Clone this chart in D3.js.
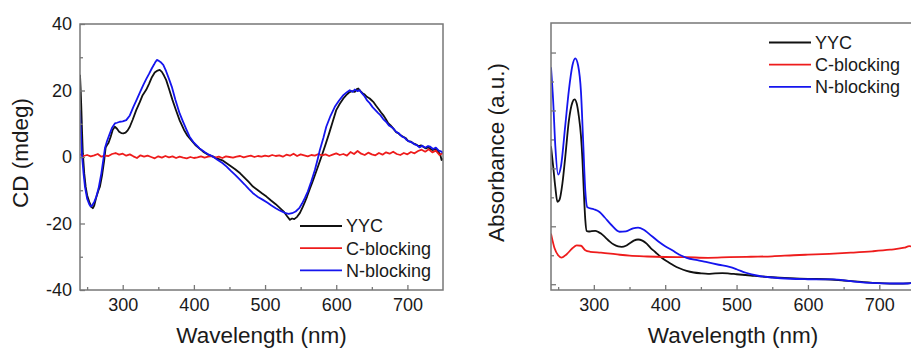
<!DOCTYPE html>
<html>
<head>
<meta charset="utf-8">
<script src="https://cdn.jsdelivr.net/npm/d3@7"></script>
<style>
  html, body { margin: 0; padding: 0; background: #fff; }
  svg { display: block; font-family: "Liberation Sans", Arial, sans-serif; }
</style>
</head>
<body>
<svg id="fig" width="911" height="351"></svg>
<script>
// ---- series names and colours ----
const seriesNames = ["YYC", "C-blocking", "N-blocking"];
const seriesColors = ["#111111", "#ee1c1c", "#1515ee"];

// ---- axis ticks ----
const xMajorTicks = [300, 400, 500, 600, 700];
const xMinorTicks = [250, 350, 450, 550, 650];
const cdMajorTicks = [-40, -20, 0, 20, 40];
const cdMinorTicks = [-30, -10, 10, 30];
const absMajorTicks = [0, 0.5, 1.0, 1.5, 2.0];
const absMinorTicks = [0.25, 0.75, 1.25, 1.75];

// ---- CD spectra [wavelength nm, mdeg] ----
const cdYYC = [[240,24.7],[241,20],[242,14],[243,7],[244,1],[246,-5],[248,-9],[250,-11.5],[253,-13.5],[256,-15],[258,-15.4],[260,-14.6],[263,-12],[266,-10],[268,-8.9],[271,-5.5],[274,-1],[276,2.8],[278,3.6],[280,4.2],[283,6],[286,8.2],[289,9.1],[292,8.5],[295,7.6],[298,7.2],[301,7.1],[304,7.3],[307,8],[310,9.1],[314,11.2],[319,14.1],[324,16.5],[328,18.6],[333,20.2],[337,22],[341,24],[345,25.4],[349,26],[352,26.2],[355,25.6],[358,24.5],[361,23.2],[365,20.5],[370,17.1],[375,14],[380,11],[386,8.2],[391,6.4],[396,5.1],[402,3.6],[408,2.5],[413,1.6],[420,0.7],[427,0.1],[433,-0.5],[440,-1],[446,-1.9],[452,-2.8],[458,-3.7],[465,-4.9],[471,-6.2],[477,-7.5],[483,-8.9],[490,-10],[496,-11],[502,-11.9],[508,-13],[515,-14.2],[521,-15.4],[527,-16.6],[531,-17.8],[535,-18.9],[538,-18.5],[541,-18.7],[545,-18],[549,-16.8],[553,-15],[556,-13.5],[559,-11.9],[563,-9.5],[567,-7.3],[571,-4.9],[575,-2.5],[580,0.6],[585,3.8],[590,7.1],[595,10.6],[600,14.1],[605,16],[610,17.6],[614,18.6],[618,19.4],[622,19.8],[626,19.6],[629,20.4],[631,20.6],[634,19.8],[637,19.2],[640,18.8],[643,18.1],[647,17.6],[650,17],[652,16.6],[656,15.4],[660,14.3],[663,13.4],[666,12.6],[670,11.3],[673,10.2],[676,9.6],[680,8.6],[684,7.5],[687,7.2],[690,6.6],[694,6.1],[698,5.6],[701,4.8],[705,4.6],[708,4.1],[712,3.8],[716,3.2],[719,3.5],[722,3.1],[726,2.6],[729,2.9],[733,2.3],[736,2.1],[740,2.5],[743,1.6],[746,0.8],[748,-0.9],[750,-0.5]];

const cdCblock = [[240,0.8],[245,0.3],[250,0.6],[255,0.2],[260,0.5],[265,0.9],[270,0.1],[275,0.4],[280,0.3],[285,0.9],[290,1.2],[295,0.7],[300,1.0],[305,0.4],[310,0.8],[315,0.2],[320,-0.3],[325,0.5],[330,0.1],[335,0.4],[340,0.0],[345,-0.4],[350,0.2],[355,-0.2],[360,0.3],[365,-0.1],[370,0.2],[375,-0.3],[380,0.1],[385,-0.2],[390,-0.4],[395,0.0],[400,-0.3],[405,-0.1],[410,0.2],[415,-0.2],[420,0.1],[425,0.3],[430,-0.2],[435,0.1],[440,-0.3],[445,0.2],[450,0.0],[455,-0.2],[460,0.1],[465,0.3],[470,-0.1],[475,0.2],[480,0.4],[485,0.0],[490,0.3],[495,0.1],[500,0.4],[505,0.2],[510,0.6],[515,0.3],[520,0.5],[525,0.1],[530,0.7],[535,0.4],[540,1.0],[545,0.3],[550,0.8],[555,0.5],[560,0.2],[565,0.6],[570,0.4],[575,0.9],[580,0.5],[585,0.8],[590,0.3],[595,0.7],[600,1.1],[605,0.6],[610,0.9],[615,0.4],[620,1.5],[625,0.9],[630,1.8],[635,1.0],[640,0.6],[645,1.3],[650,0.8],[655,0.5],[660,1.2],[665,0.7],[670,1.4],[675,1.0],[680,1.6],[685,0.9],[690,0.6],[695,1.2],[700,0.8],[705,1.5],[710,1.1],[715,1.8],[720,2.2],[725,1.6],[730,2.3],[735,1.4],[740,1.9],[745,0.6],[750,1.2]];

const cdNblock = [[240,14.1],[241,9],[242,4],[243,0],[245,-5],[247,-9],[250,-12.5],[253,-14.2],[255,-14.9],[257,-14.6],[260,-13.5],[263,-11.9],[266,-9.5],[270,-4.9],[273,-0.5],[275,2.6],[278,4.8],[282,7.1],[285,8.8],[289,10.1],[292,10.3],[296,10.6],[300,10.7],[305,11.1],[310,12.5],[315,15.1],[320,17.4],[325,19.8],[329,21.7],[333,23.4],[337,25],[341,26.7],[344,27.8],[346,28.6],[348,29.2],[350,29],[353,28.6],[357,27.7],[361,25.8],[365,23.5],[369,21.1],[374,17.2],[380,13.1],[385,10.5],[390,8],[394,6.1],[400,4.3],[408,2.6],[415,1.5],[421,0.7],[427,0.1],[433,-0.8],[440,-1.8],[446,-2.9],[452,-4.2],[458,-5.4],[465,-6.9],[471,-8.2],[477,-9.6],[483,-10.9],[490,-12],[497,-12.9],[503,-13.7],[509,-14.6],[515,-15.4],[520,-16],[525,-16.5],[529,-16.9],[533,-17.1],[538,-16.9],[543,-16.4],[548,-15.4],[552,-14],[556,-12.3],[560,-10.4],[565,-7.3],[570,-3.9],[574,-0.6],[577,2.1],[582,5.8],[586,9.1],[592,12.4],[598,15.1],[604,17],[610,18.6],[615,19.5],[619,20.1],[623,19.6],[626,20.3],[630,19.8],[633,20.1],[636,19.2],[640,18.2],[643,17.1],[647,16.2],[651,15],[655,14.1],[659,13.2],[662,12.6],[666,11.4],[670,10.6],[674,9.5],[677,9.1],[680,8.6],[684,7.6],[688,7.1],[692,6.2],[696,5.8],[699,5.1],[703,4.6],[707,4.3],[710,3.8],[713,3.6],[717,2.9],[721,3.4],[725,2.8],[729,3.3],[732,3.1],[736,2.4],[740,2.8],[744,1.9],[748,1.6],[750,1.2]];

// ---- absorption spectra [wavelength nm, absorbance a.u.] ----
const absYYC = [[240,1.19],[243,1.02],[246,0.84],[249,0.71],[252,0.73],[256,0.87],[260,1.1],[265,1.41],[270,1.57],[273,1.595],[276,1.56],[279,1.45],[282,1.28],[284,1.08],[286,0.8],[288,0.56],[290,0.46],[293,0.455],[297,0.458],[302,0.46],[306,0.452],[310,0.437],[316,0.405],[322,0.37],[328,0.342],[334,0.326],[339,0.322],[345,0.332],[350,0.352],[356,0.376],[362,0.386],[368,0.376],[374,0.35],[380,0.31],[386,0.278],[392,0.245],[398,0.215],[405,0.188],[412,0.162],[420,0.138],[430,0.115],[440,0.101],[450,0.094],[460,0.09],[470,0.094],[480,0.096],[490,0.092],[500,0.086],[520,0.075],[550,0.06],[575,0.052],[600,0.046],[625,0.043],[650,0.032],[675,0.02],[700,0.01],[725,0.005],[750,0.012]];

const absCblock = [[240,0.437],[245,0.31],[250,0.25],[255,0.23],[262,0.259],[270,0.31],[276,0.336],[282,0.332],[288,0.293],[295,0.28],[310,0.272],[330,0.259],[350,0.246],[375,0.239],[400,0.235],[430,0.233],[460,0.228],[490,0.233],[520,0.237],[550,0.241],[580,0.25],[600,0.255],[630,0.262],[660,0.272],[690,0.284],[715,0.298],[735,0.315],[742,0.328],[750,0.322]];

const absNblock = [[240,1.873],[243,1.586],[246,1.198],[250,0.946],[254,1.02],[260,1.371],[265,1.672],[270,1.888],[274,1.95],[278,1.888],[282,1.66],[285,1.24],[288,0.81],[291,0.664],[300,0.647],[308,0.623],[315,0.578],[325,0.509],[336,0.453],[345,0.457],[355,0.483],[362,0.489],[370,0.47],[377,0.437],[390,0.371],[400,0.328],[410,0.293],[420,0.254],[430,0.228],[445,0.207],[457,0.192],[475,0.168],[490,0.149],[500,0.129],[513,0.099],[530,0.073],[550,0.058],[575,0.047],[600,0.043],[635,0.041],[660,0.026],[690,0.011],[720,0.006],[740,0.006],[750,0.017]];

const cdSeries = [cdYYC, cdCblock, cdNblock];
const absSeries = [absYYC, absCblock, absNblock];

const svg = d3.select("#fig");
svg.append("rect").attr("width", 911).attr("height", 351).attr("fill", "#fff");

const frameColor = "#777";
const textColor = "#1a1a1a";

function panel(opts) {
  const { left, right, top, bottom, yDomain, yMajor, yMinor, showYLabels,
          yTitle, yTitleX, series, curve, legendX, legendY, clipId } = opts;

  const x = d3.scaleLinear().domain([240, 750]).range([left, right]);
  const y = d3.scaleLinear().domain(yDomain).range([bottom, top]);
  const g = svg.append("g");

  g.append("clipPath").attr("id", clipId)
    .append("rect").attr("x", left).attr("y", top)
    .attr("width", right - left).attr("height", bottom - top);

  // curves
  const line = d3.line().x(d => x(d[0])).y(d => y(d[1])).curve(curve);
  const lines = g.append("g").attr("clip-path", `url(#${clipId})`);
  series.forEach((s, i) => {
    lines.append("path").datum(s)
      .attr("fill", "none")
      .attr("stroke", seriesColors[i])
      .attr("stroke-width", 1.8)
      .attr("stroke-linejoin", "round")
      .attr("d", line);
  });

  // frame
  g.append("rect").attr("x", left).attr("y", top)
    .attr("width", right - left).attr("height", bottom - top)
    .attr("fill", "none").attr("stroke", frameColor).attr("stroke-width", 1.5);

  const styleAxis = sel => {
    sel.select(".domain").remove();
    sel.selectAll(".tick line").attr("stroke", frameColor).attr("stroke-width", 1.3);
    sel.selectAll(".tick text").attr("fill", textColor)
      .style("font-size", "18px").style("font-family", "'Liberation Sans', Arial, sans-serif");
  };

  // bottom axis (ticks point inward)
  g.append("g").attr("transform", `translate(0,${bottom})`)
    .call(d3.axisBottom(x).tickValues(xMajorTicks).tickSize(-5).tickPadding(8).tickFormat(d3.format("d")))
    .call(styleAxis);
  g.append("g").attr("transform", `translate(0,${bottom})`)
    .call(d3.axisBottom(x).tickValues(xMinorTicks).tickSize(-3).tickFormat(""))
    .call(styleAxis);

  // left axis
  g.append("g").attr("transform", `translate(${left},0)`)
    .call(d3.axisLeft(y).tickValues(yMajor).tickSize(-5).tickPadding(8)
      .tickFormat(showYLabels ? (d => String(d)) : ""))
    .call(styleAxis);
  g.append("g").attr("transform", `translate(${left},0)`)
    .call(d3.axisLeft(y).tickValues(yMinor).tickSize(-3).tickFormat(""))
    .call(styleAxis);

  // axis titles
  g.append("text").attr("x", (left + right) / 2).attr("y", 343)
    .attr("text-anchor", "middle").attr("fill", textColor)
    .style("font-size", "22.5px").text("Wavelength (nm)");
  g.append("text")
    .attr("transform", `translate(${yTitleX},${(top + bottom) / 2 - 4}) rotate(-90)`)
    .attr("text-anchor", "middle").attr("fill", textColor)
    .style("font-size", "22.5px").text(yTitle);

  // legend
  const lg = g.append("g").attr("transform", `translate(${legendX},${legendY})`);
  seriesNames.forEach((name, i) => {
    const row = lg.append("g").attr("transform", `translate(0,${i * 22.2})`);
    row.append("line").attr("x1", 0).attr("x2", 42).attr("y1", 0).attr("y2", 0)
      .attr("stroke", seriesColors[i]).attr("stroke-width", 1.8);
    row.append("text").attr("x", 46).attr("y", 0).attr("dy", "0.35em")
      .attr("fill", textColor).style("font-size", "18px").text(name);
  });
}

panel({
  left: 80, right: 443, top: 24, bottom: 290,
  yDomain: [-40, 40], yMajor: cdMajorTicks, yMinor: cdMinorTicks, showYLabels: true,
  yTitle: "CD (mdeg)", yTitleX: 28, series: cdSeries, curve: d3.curveLinear,
  legendX: 300, legendY: 226, clipId: "clip-cd"
});

panel({
  left: 551, right: 915, top: 23, bottom: 290,
  yDomain: [-0.05, 2.255], yMajor: absMajorTicks, yMinor: absMinorTicks, showYLabels: false,
  yTitle: "Absorbance (a.u.)", yTitleX: 504, series: absSeries, curve: d3.curveMonotoneX,
  legendX: 769, legendY: 42.5, clipId: "clip-abs"
});
</script>
</body>
</html>
